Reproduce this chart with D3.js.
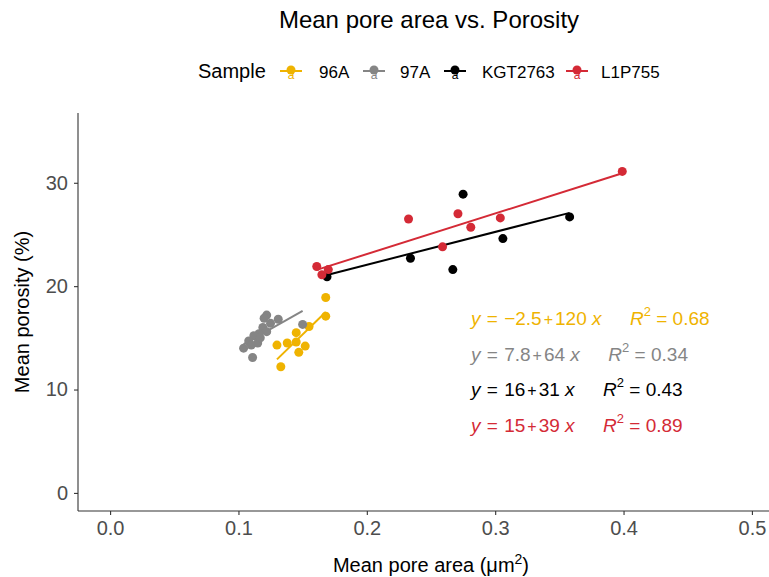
<!DOCTYPE html>
<html>
<head>
<meta charset="utf-8">
<script src="https://cdn.jsdelivr.net/npm/d3@7"></script>
<style>
  body { margin: 0; background: #fff; }
  text { font-family: "Liberation Sans", Arial, sans-serif; }
</style>
</head>
<body>
<script>
// Chart size
var w = 769;
var h = 577;

// Groups and colours
var samples = ["96A", "97A", "KGT2763", "L1P755"];
var colors = ["#EFB300", "#858585", "#000000", "#D42A36"];

// Mean pore area (um^2) and mean porosity (%) per sample
var area96A = [0.168, 0.168, 0.130, 0.138, 0.145, 0.145, 0.152, 0.155, 0.147, 0.133];
var poro96A = [18.9, 17.1, 14.3, 14.5, 15.5, 14.6, 14.2, 16.1, 13.6, 12.2];

var area97A = [0.122, 0.120, 0.131, 0.125, 0.119, 0.122, 0.116, 0.112, 0.108, 0.104, 0.110, 0.111, 0.150, 0.115, 0.117];
var poro97A = [17.2, 16.9, 16.8, 16.4, 16.0, 15.6, 15.4, 15.2, 14.7, 14.0, 14.3, 13.1, 16.3, 14.5, 15.0];

var areaKGT = [0.169, 0.234, 0.267, 0.275, 0.306, 0.358];
var poroKGT = [20.9, 22.7, 21.6, 28.9, 24.6, 26.7];

var areaL1P = [0.161, 0.165, 0.170, 0.2325, 0.259, 0.271, 0.281, 0.304, 0.399];
var poroL1P = [21.9, 21.1, 21.6, 26.5, 23.8, 27.0, 25.7, 26.6, 31.1];

// Regression labels
var eqIntercept = ["\u22122.5", "7.8", "16", "15"];
var eqSlope = ["120", "64", "31", "39"];
var eqR2 = ["0.68", "0.34", "0.43", "0.89"];

// Ticks
var xTicks = [0, 0.1, 0.2, 0.3, 0.4, 0.5];
var yTicks = [0, 10, 20, 30];

var groups = [
    {name: samples[0], x: area96A, y: poro96A},
    {name: samples[1], x: area97A, y: poro97A},
    {name: samples[2], x: areaKGT, y: poroKGT},
    {name: samples[3], x: areaL1P, y: poroL1P}
];

// Scales
var xScale = d3.scaleLinear().domain([-0.025, 0.525]).range([78, 784]);
var yScale = d3.scaleLinear().domain([-1.75, 36.75]).range([511, 113]);
var color = d3.scaleOrdinal().domain(samples).range(colors);

var svg = d3.select("body").append("svg")
    .attr("width", w)
    .attr("height", h);

// Title
svg.append("text")
    .attr("x", 429).attr("y", 28)
    .attr("text-anchor", "middle")
    .attr("font-size", "24px")
    .attr("fill", "#000")
    .text("Mean pore area vs. Porosity");

// Legend
var legend = svg.append("g").attr("transform", "translate(0,71)");
legend.append("text")
    .attr("x", 198).attr("y", 7)
    .attr("font-size", "20px")
    .attr("fill", "#000")
    .text("Sample");
var keyX = [291, 374, 455, 577];
var labX = [319, 400, 482, 601];
samples.forEach(function(s, i) {
    var g = legend.append("g").attr("transform", "translate(" + keyX[i] + ",0)");
    g.append("line").attr("x1", -11).attr("x2", 11)
        .attr("stroke", color(s)).attr("stroke-width", 2);
    g.append("text").attr("x", 0).attr("y", 8)
        .attr("text-anchor", "middle")
        .attr("font-size", "12px")
        .attr("fill", color(s))
        .text("a");
    g.append("circle").attr("r", 4.5).attr("cy", -1).attr("fill", color(s));
    legend.append("text")
        .attr("x", labX[i]).attr("y", 7)
        .attr("font-size", "17px")
        .attr("fill", "#000")
        .text(s);
});

// Axes
var xAxis = d3.axisBottom(xScale).tickValues(xTicks).tickSize(4).tickPadding(6)
    .tickFormat(d3.format(".1f"));
var gx = svg.append("g")
    .attr("transform", "translate(0,511)")
    .call(xAxis);
gx.select(".domain").remove();

var yAxis = d3.axisLeft(yScale).tickValues(yTicks).tickSize(4).tickPadding(6);
var gy = svg.append("g")
    .attr("transform", "translate(78,0)")
    .call(yAxis);
gy.select(".domain").remove();

[gx, gy].forEach(function(g) {
    g.selectAll(".tick line").attr("stroke", "#333").attr("stroke-width", 1.1);
    g.selectAll(".tick text")
        .attr("font-size", "20px")
        .attr("font-family", "Liberation Sans, Arial, sans-serif")
        .attr("fill", "#4D4D4D");
});

svg.append("line")
    .attr("x1", 78).attr("x2", w)
    .attr("y1", 511).attr("y2", 511)
    .attr("stroke", "#333").attr("stroke-width", 1.1);
svg.append("line")
    .attr("x1", 78).attr("x2", 78)
    .attr("y1", 113).attr("y2", 511)
    .attr("stroke", "#333").attr("stroke-width", 1.1);

// Axis titles
var xt = svg.append("text")
    .attr("x", 431).attr("y", 572)
    .attr("text-anchor", "middle")
    .attr("font-size", "20px")
    .attr("fill", "#000");
xt.append("tspan").text("Mean pore area (\u03bcm");
xt.append("tspan").attr("dy", -8).attr("font-size", "14px").text("2");
xt.append("tspan").attr("dy", 8).text(")");

svg.append("text")
    .attr("transform", "translate(29,312) rotate(-90)")
    .attr("text-anchor", "middle")
    .attr("font-size", "20px")
    .attr("fill", "#000")
    .text("Mean porosity (%)");

// Regression lines (least squares per sample)
function fit(xs, ys) {
    var mx = d3.mean(xs), my = d3.mean(ys);
    var sxy = d3.sum(xs, function(d, i) { return (d - mx) * (ys[i] - my); });
    var sxx = d3.sum(xs, function(d) { return (d - mx) * (d - mx); });
    var b = sxy / sxx;
    return {a: my - b * mx, b: b};
}

var line = d3.line()
    .x(function(d) { return xScale(d[0]); })
    .y(function(d) { return yScale(d[1]); });

groups.forEach(function(g) {
    var f = fit(g.x, g.y);
    var ext = d3.extent(g.x);
    svg.append("path")
        .datum(ext.map(function(x) { return [x, f.a + f.b * x]; }))
        .attr("d", line)
        .attr("fill", "none")
        .attr("stroke", color(g.name))
        .attr("stroke-width", 2);
});

// Points
groups.forEach(function(g) {
    svg.append("g").selectAll("circle")
        .data(g.x.map(function(x, i) { return [x, g.y[i]]; }))
        .enter()
        .append("circle")
        .attr("cx", function(d) { return xScale(d[0]); })
        .attr("cy", function(d) { return yScale(d[1]); })
        .attr("r", 4.5)
        .attr("fill", color(g.name));
});

// Equation labels
var eqY = [325, 361, 396, 432];
samples.forEach(function(s, i) {
    var t = svg.append("text")
        .attr("x", 471).attr("y", eqY[i])
        .attr("font-size", "19px")
        .attr("fill", color(s));
    t.append("tspan").attr("font-style", "italic").text("y");
    t.append("tspan").attr("dx", 1).text(" = ");
    t.append("tspan").attr("dx", 1).text(eqIntercept[i]);
    t.append("tspan").attr("font-size", "16px").attr("dx", 2).text("+");
    t.append("tspan").attr("dx", 2).text(eqSlope[i] + " ");
    t.append("tspan").attr("font-style", "italic").text("x");
    var end = 471 + t.node().getBBox().width;

    var r = svg.append("text")
        .attr("x", end + 25).attr("y", eqY[i])
        .attr("font-size", "19px")
        .attr("fill", color(s));
    r.append("tspan").attr("font-style", "italic").text("R");
    r.append("tspan").attr("dy", -9).attr("font-size", "13px").text("2");
    r.append("tspan").attr("dy", 9).text(" = " + eqR2[i]);
});
</script>
</body>
</html>
